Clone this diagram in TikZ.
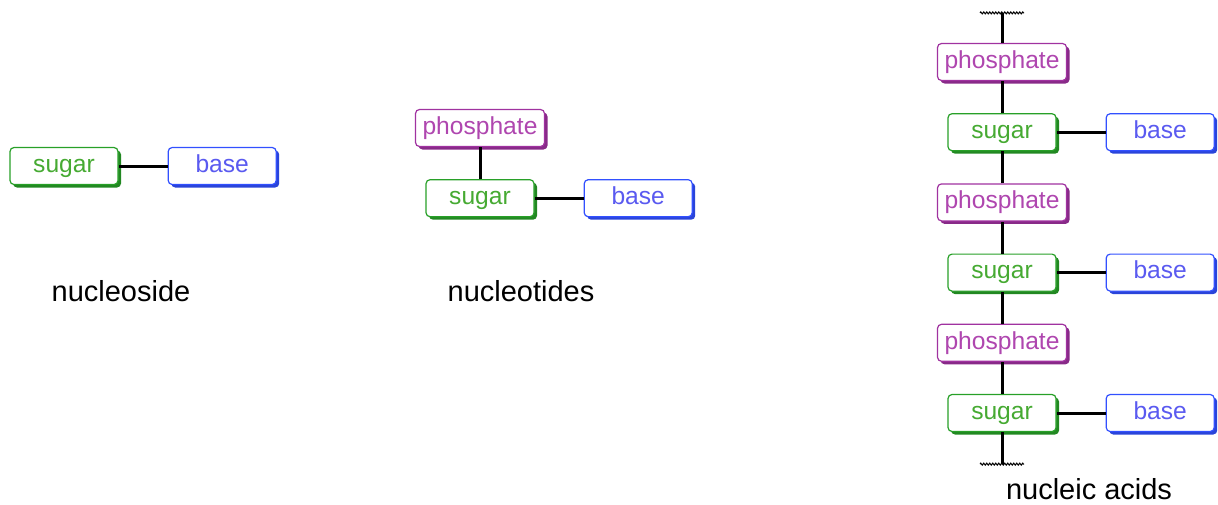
\documentclass[tikz,border=0pt]{standalone}
\usepackage{fontspec}
\setmainfont{Liberation Sans}
\usetikzlibrary{positioning,shadows,decorations.pathmorphing}
\definecolor{sugarline}{RGB}{40,160,40}
\definecolor{sugartext}{RGB}{70,170,50}
\definecolor{baseline}{RGB}{50,80,255}
\definecolor{basetext}{RGB}{90,90,240}
\definecolor{phosline}{RGB}{160,50,160}
\definecolor{phostext}{RGB}{175,70,175}
\tikzset{every picture/.style={
  line width=0.6pt              % Thin outlines by default.
  }
}

\begin{document}
\begin{tikzpicture}[x=0.5pt,y=-0.5pt,
    box/.style={                % Rounded boxes with a solid shadow.
      rectangle,
      rounded corners=2pt,
      draw,
      fill=white,
      minimum width=54pt,
      minimum height=18.5pt,
      inner sep=0pt,
      text height=8.6pt,
      text depth=2.4pt,
      font=\fontsize{12.3}{14}\selectfont
    },
    sugar/.style={              % Sugar boxes.
      box,
      draw=sugarline,
      text=sugartext,
      drop shadow={shadow xshift=1.5pt,shadow yshift=-1.5pt,
        fill=sugarline!85!black,opacity=1}
    },
    base/.style={               % Base boxes.
      box,
      draw=baseline,
      text=basetext,
      drop shadow={shadow xshift=1.5pt,shadow yshift=-1.5pt,
        fill=baseline!85!black,opacity=1}
    },
    phos/.style={               % Phosphate boxes.
      box,
      minimum width=64.5pt,
      draw=phosline,
      text=phostext,
      drop shadow={shadow xshift=1.5pt,shadow yshift=-1.5pt,
        fill=phosline!85!black,opacity=1}
    },
    link/.style={               % Bonds between the parts.
      draw=black,
      line width=1.5pt
    },
    cut/.style={                % Open ends of the chain.
      draw=black,
      line width=0.5pt,
      decorate,
      decoration={zigzag,amplitude=0.5pt,segment length=1.5pt}
    },
    lbl/.style={                % Captions under each drawing.
      anchor=base,
      font=\fontsize{14.5}{17}\selectfont
    },
    node distance=16pt and 24.5pt]

    \useasboundingbox (0,0) rectangle (1218,504);

    % Nucleoside: sugar and base.
    \node[sugar] (sug1) at (64,166) {sugar};
    \node[base]  (bas1) [right=of sug1] {base}
      edge [link] (sug1);
    \node[lbl] (lnucleoside) at (121,301) {nucleoside};

    % Nucleotide: phosphate, sugar and base.
    \node[phos]  (pho2) at (480,128) {phosphate};
    \node[sugar] (sug2) [below=of pho2] {sugar}
      edge [link] (pho2);
    \node[base]  (bas2) [right=of sug2] {base}
      edge [link] (sug2);
    \node[lbl] (lnucleotides) at (521,301) {nucleotides};

    % Nucleic acid: a chain of nucleotides.
    \node[phos]  (pho3a) at (1002,62) {phosphate};
    \node[sugar] (sug3a) [below=of pho3a] {sugar}
      edge [link] (pho3a);
    \node[base]  (bas3a) [right=of sug3a] {base}
      edge [link] (sug3a);
    \node[phos]  (pho3b) [below=of sug3a] {phosphate}
      edge [link] (sug3a);
    \node[sugar] (sug3b) [below=of pho3b] {sugar}
      edge [link] (pho3b);
    \node[base]  (bas3b) [right=of sug3b] {base}
      edge [link] (sug3b);
    \node[phos]  (pho3c) [below=of sug3b] {phosphate}
      edge [link] (sug3b);
    \node[sugar] (sug3c) [below=of pho3c] {sugar}
      edge [link] (pho3c);
    \node[base]  (bas3c) [right=of sug3c] {base}
      edge [link] (sug3c);

    % Open ends of the chain.
    \coordinate[above=15pt of pho3a.north] (top);
    \coordinate[below=16pt of sug3c.south] (bottom);
    \draw[link] (pho3a) -- (top);
    \draw[link] (sug3c) -- (bottom);
    \draw[cut] ([xshift=-11pt]top) -- ([xshift=11pt]top);
    \draw[cut] ([xshift=-11pt]bottom) -- ([xshift=11pt]bottom);
    \node[lbl] (lnucleic) at (1089,499) {nucleic acids};
  \end{tikzpicture}
\end{document}
